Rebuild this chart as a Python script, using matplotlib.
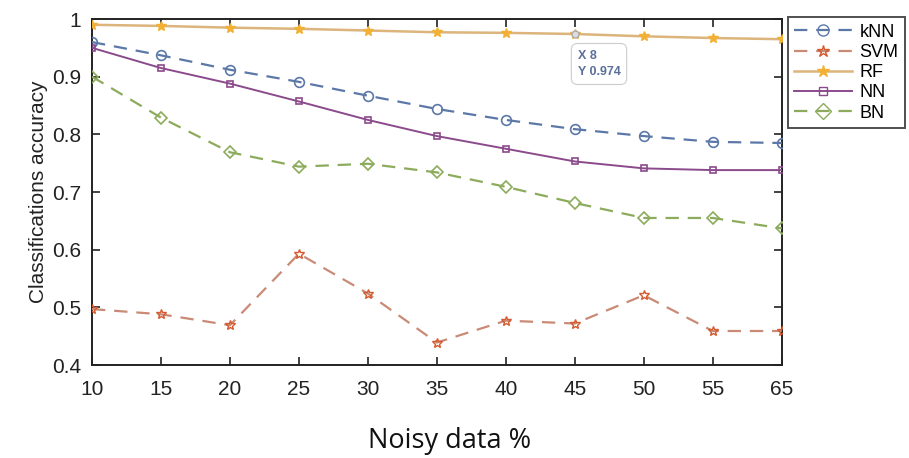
import matplotlib
matplotlib.use("Agg")
import matplotlib.pyplot as plt
from matplotlib.lines import Line2D

x_labels = ["10", "15", "20", "25", "30", "35", "40", "45", "50", "55", "65"]
knn = [0.960, 0.937, 0.912, 0.891, 0.867, 0.844, 0.825, 0.809, 0.797, 0.787, 0.785]
svm = [0.497, 0.488, 0.469, 0.593, 0.524, 0.439, 0.477, 0.472, 0.521, 0.459, 0.459]
rf = [0.990, 0.988, 0.985, 0.983, 0.980, 0.977, 0.976, 0.974, 0.970, 0.967, 0.965]
nn = [0.950, 0.915, 0.888, 0.857, 0.825, 0.797, 0.775, 0.753, 0.741, 0.738, 0.738]
bn = [0.900, 0.829, 0.769, 0.744, 0.749, 0.734, 0.709, 0.681, 0.655, 0.655, 0.637]
y_ticks = [0.4, 0.5, 0.6, 0.7, 0.8, 0.9, 1.0]
y_tick_labels = ["0.4", "0.5", "0.6", "0.7", "0.8", "0.9", "1"]

plt.rcParams['font.family'] = ['Liberation Sans', 'DejaVu Sans']

fig = plt.figure(figsize=(9.09, 4.58), dpi=100)
ax = fig.add_axes([0.1012, 0.203, 0.7588, 0.7555])
xs = list(range(len(x_labels)))

c_knn = "#5b78a8"
c_svm_line = "#c98a76"
c_svm_mk = "#d45a30"
c_rf_line = "#dcb47c"
c_rf_mk = "#f2b134"
c_nn = "#8b4a8c"
c_bn = "#8dab5c"

ax.plot(xs, rf, color=c_rf_line, lw=1.8, marker='*', ms=7, mfc=c_rf_mk, mec=c_rf_mk, zorder=3)
ax.plot(xs, knn, color=c_knn, lw=1.6, ls=(0, (6, 4)), marker='o', ms=7, mfc='none', mec=c_knn, mew=1.2, zorder=3)
ax.plot(xs, nn, color=c_nn, lw=1.4, marker='s', ms=5, mfc='none', mec=c_nn, mew=1.2, zorder=3)
ax.plot(xs, bn, color=c_bn, lw=1.6, ls=(0, (6, 4)), marker='D', ms=6, mfc='none', mec=c_bn, mew=1.2, zorder=3)
ax.plot(xs, svm, color=c_svm_line, lw=1.6, ls=(0, (6, 4)), marker='*', ms=7, mfc='none', mec=c_svm_mk, mew=1.0, zorder=3)

ax.set_xlim(0, len(xs) - 1)
ax.set_ylim(0.4, 1.0)
ax.set_xticks(xs)
ax.set_xticklabels(x_labels)
ax.set_yticks(y_ticks)
ax.set_yticklabels(y_tick_labels)
ax.tick_params(direction='in', top=True, right=True, length=6, width=1.2, labelsize=15, colors='#222222')
ax.tick_params(axis='x', pad=11)
ax.tick_params(axis='y', pad=8)
for s in ax.spines.values():
    s.set_linewidth(1.4)
    s.set_color('#222222')

ax.set_ylabel("Classifications accuracy", fontsize=15, color='#222222', labelpad=3)
fig.text(0.495, 0.037, "Noisy data %", fontsize=19.5, family=['Open Sans', 'DejaVu Sans'], ha='center', va='center', color='#111111')

# tooltip annotation
i_tip = x_labels.index("45")
ax.plot([i_tip], [rf[i_tip]], marker='o', ms=5, mfc='#dddddd', mec='#aaaaaa', zorder=4)
ax.annotate("X 8\nY 0.974", xy=(i_tip, rf[i_tip]), xytext=(i_tip + 0.04, rf[i_tip] - 0.052),
            fontsize=9, color='#5b6f99', ha='left', va='center', linespacing=1.5, fontweight='bold',
            bbox=dict(boxstyle='round,pad=0.5', fc='white', ec='#cccccc', lw=0.8), zorder=5)

handles = [
    Line2D([], [], color=c_knn, lw=1.6, ls=(0, (6, 4)), marker='o', ms=8, mfc='none', mec=c_knn),
    Line2D([], [], color=c_svm_line, lw=1.6, ls=(0, (6, 4)), marker='*', ms=9, mfc='none', mec=c_svm_mk),
    Line2D([], [], color=c_rf_line, lw=1.8, marker='*', ms=9, mfc=c_rf_mk, mec=c_rf_mk),
    Line2D([], [], color=c_nn, lw=1.4, marker='s', ms=6, mfc='none', mec=c_nn),
    Line2D([], [], color=c_bn, lw=1.6, ls=(0, (6, 4)), marker='D', ms=8, mfc='none', mec=c_bn),
]
leg = fig.legend(handles, ["kNN", "SVM", "RF", "NN", "BN"], loc='upper left',
                 bbox_to_anchor=(0.867, 0.962), fontsize=13, frameon=True, fancybox=False,
                 edgecolor='#222222', handlelength=3.2, labelspacing=0.18, borderpad=0.35,
                 handletextpad=0.4, borderaxespad=0)
leg.get_frame().set_linewidth(1.4)

fig.savefig("out.png", dpi=100)
